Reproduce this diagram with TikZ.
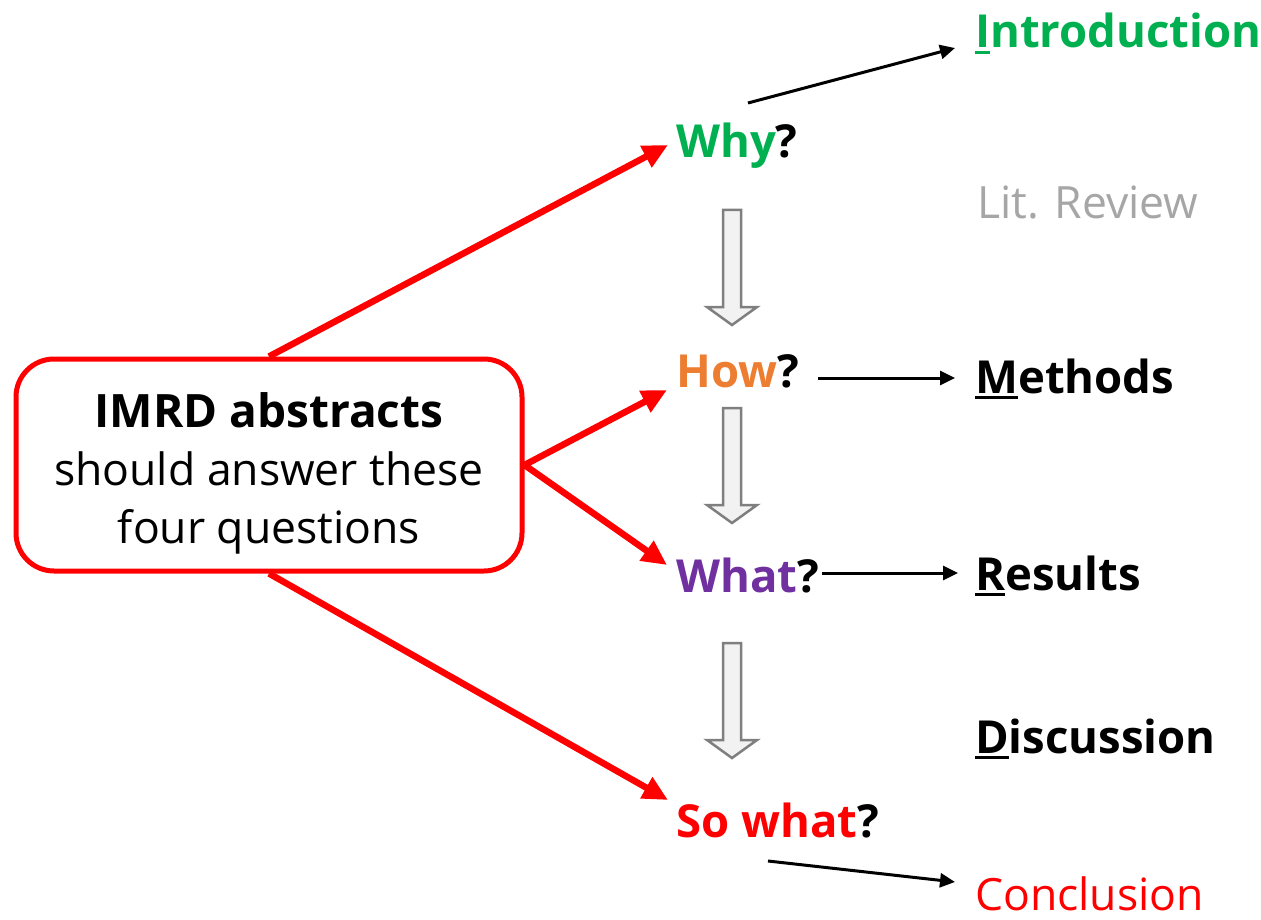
\documentclass[tikz,border=0pt]{standalone}
\usepackage{fontspec}
\setmainfont{Open Sans}
\usetikzlibrary{arrows.meta,calc}
\definecolor{cgreen}{HTML}{00B050}
\definecolor{corange}{HTML}{ED7D31}
\definecolor{cpurple}{HTML}{7030A0}
\definecolor{cred}{HTML}{FF0000}
\definecolor{cgray}{HTML}{A6A6A6}
\definecolor{bfill}{HTML}{F2F2F2}
\definecolor{bline}{HTML}{7F7F7F}
\newcommand{\ul}[1]{\setbox0\hbox{#1}\rlap{\raisebox{-6pt}{\rule{\wd0}{3pt}}}\box0}
\begin{document}
\begin{tikzpicture}[x=1pt,y=-1pt,
  lbl/.style={anchor=base west,inner sep=0pt,font=\fontsize{45.5}{50}\selectfont\bfseries},
  lblr/.style={anchor=base west,inner sep=0pt,font=\fontsize{44.5}{50}\selectfont},
  redarr/.style={draw=cred,line width=6.5pt,-{Triangle[length=25pt,width=23pt]}},
  blkarr/.style={draw=black,line width=3pt,-{Triangle[length=15pt,width=14pt]}},
  blockarr/.style={draw=bline,fill=bfill,line width=2.5pt}
]
\useasboundingbox (0,0) rectangle (1261,920);
% central box
\node[draw=cred,line width=5pt,rounded corners=38pt,minimum width=506pt,minimum height=212pt,inner sep=0pt] (box) at (269,465) {};
\node[align=center,inner sep=0pt,font=\fontsize{44.5}{58}\selectfont] (boxtext) at ($(box.center)+(0,8)$)
  {{\fontsize{46}{58}\selectfont\bfseries IMRD abstracts}\\should answer these\\four questions};
% question labels
\node[lbl] (why) at (676,158) {\textcolor{cgreen}{Why}?};
\node[lbl] (how) at (676,387) {\textcolor{corange}{How}?};
\node[lbl] (what) at (676,592) {\textcolor{cpurple}{What}?};
\node[lbl] (sowhat) at (676,837) {\textcolor{cred}{So what}?};
% sections
\node[lbl,text=cgreen] (intro) at (975,48) {\ul{I}ntroduction};
\node[lblr,text=cgray] (lit) at (977,219) {Lit. Review};
\node[lbl] (meth) at (975,393) {\ul{M}ethods};
\node[lbl] (res) at (975,590) {\ul{R}esults};
\node[lbl] (disc) at (975,753) {\ul{D}iscussion};
\node[lblr,text=cred] (conc) at (975,910) {Conclusion};
% red arrows
\draw[redarr] (box.north) -- ($(why.base west)+(-8,-13)$);
\draw[redarr] (box.east) -- ($(how.base west)+(-9,3)$);
\draw[redarr] (box.east) -- ($(what.base west)+(-9,-27)$);
\draw[redarr] (box.south) -- ($(sowhat.base west)+(-8,-37)$);
% black arrows
\draw[blkarr] ($(why.base west)+(72,-55)$) -- ($(intro.base west)+(-20,0)$);
\draw[blkarr] ($(how.base west)+(142,-9)$) -- ($(meth.base west)+(-20,-15)$);
\draw[blkarr] ($(what.base west)+(146,-19)$) -- ($(res.base west)+(-17,-17)$);
\draw[blkarr] ($(sowhat.base west)+(92,24)$) -- ($(conc.base west)+(-20,-28)$);
% block arrows
\foreach \t/\h/\b in {210/307/325, 408/505/523, 643/740/758}{
  \draw[blockarr] (723,\t) -- (741,\t) -- (741,\h) -- (757,\h) -- (732,\b) -- (707,\h) -- (723,\h) -- cycle;
}
\end{tikzpicture}
\end{document}
